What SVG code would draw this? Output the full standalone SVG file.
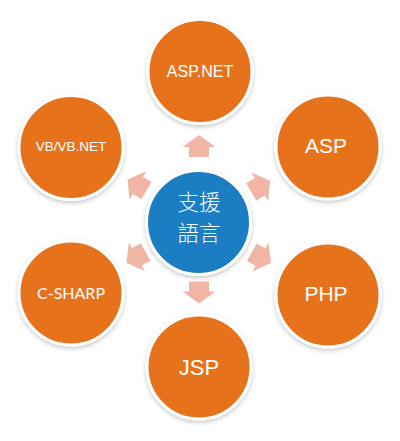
<svg xmlns="http://www.w3.org/2000/svg" xmlns:xlink="http://www.w3.org/1999/xlink" width="400" height="441" viewBox="0 0 400 441">
  <style>
    .node circle { stroke: #ffffff; stroke-width: 3; filter: url(#shadow); }
    .outer circle { fill: #e6731f; }
    .center circle { fill: #1b7ec2; }
    .lbl { fill: #ffffff; font-family: "Liberation Sans", Arial, sans-serif; text-anchor: middle; }
    .cjk { fill: #ffffff; font-family: "Noto Sans CJK TC", "Noto Sans CJK SC", sans-serif; font-size: 21.5px; text-anchor: middle; font-weight: 300; }
    .arrow { fill: #f1b5a5; }
  </style>
  <defs>
    <filter id="shadow" x="-20%" y="-20%" width="140%" height="150%">
      <feDropShadow dx="0" dy="2" stdDeviation="2" flood-color="#000000" flood-opacity="0.22"/>
    </filter>
    <path id="arr" d="M11,0 L-1,-16.5 L-1,-10 L-11,-10 L-11,10 L-1,10 L-1,16.5 Z"/>
  </defs>
  <rect width="400" height="441" fill="#ffffff"/>
  <g id="connectors" class="arrow">
    <use xlink:href="#arr" transform="translate(199,146) rotate(-90)"/>
    <use xlink:href="#arr" transform="translate(199,292.5) rotate(90)"/>
    <use xlink:href="#arr" transform="translate(260.7,186.3) rotate(-30.2)"/>
    <use xlink:href="#arr" transform="translate(261.4,257.6) rotate(29.2)"/>
    <use xlink:href="#arr" transform="translate(136,257.3) rotate(151)"/>
    <use xlink:href="#arr" transform="translate(137,185) rotate(-149.5)"/>
  </g>
  <g id="node-aspnet" class="node outer">
    <circle cx="200" cy="71.5" r="52"/>
    <text class="lbl" x="200" y="77" font-size="16">ASP.NET</text>
  </g>
  <g id="node-asp" class="node outer">
    <circle cx="328" cy="147" r="52"/>
    <text class="lbl" x="326" y="153" font-size="21">ASP</text>
  </g>
  <g id="node-php" class="node outer">
    <circle cx="328" cy="295" r="52"/>
    <text class="lbl" x="326" y="301" font-size="21">PHP</text>
  </g>
  <g id="node-jsp" class="node outer">
    <circle cx="199" cy="367" r="52"/>
    <text class="lbl" x="199" y="375" font-size="22">JSP</text>
  </g>
  <g id="node-csharp" class="node outer">
    <circle cx="71" cy="293" r="52"/>
    <text class="lbl" x="71" y="299" font-size="16" style="font-family: Lato, 'Open Sans', sans-serif;">C-SHARP</text>
  </g>
  <g id="node-vb" class="node outer">
    <circle cx="71" cy="147.5" r="52"/>
    <text class="lbl" x="71" y="151" font-size="13.5">VB/VB.NET</text>
  </g>
  <g id="node-center" class="node center">
    <circle cx="198.5" cy="222.5" r="52"/>
    <text class="cjk" x="199" y="210">支援</text>
    <text class="cjk" x="199" y="241">語言</text>
  </g>
</svg>
